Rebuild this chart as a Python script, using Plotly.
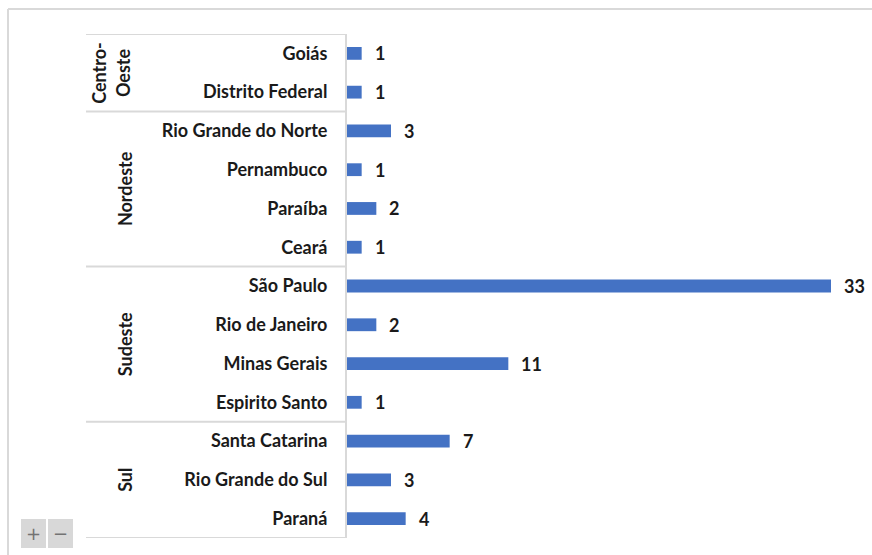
import plotly.graph_objects as go

regions = ["Centro-Oeste", "Centro-Oeste",
           "Nordeste", "Nordeste", "Nordeste", "Nordeste",
           "Sudeste", "Sudeste", "Sudeste", "Sudeste",
           "Sul", "Sul", "Sul"]
states = ["Goiás", "Distrito Federal",
          "Rio Grande do Norte", "Pernambuco", "Paraíba", "Ceará",
          "São Paulo", "Rio de Janeiro", "Minas Gerais", "Espirito Santo",
          "Santa Catarina", "Rio Grande do Sul", "Paraná"]
values = [1, 1, 3, 1, 2, 1, 33, 2, 11, 1, 7, 3, 4]
group_labels = {"Centro-Oeste": "Centro-<br>Oeste", "Nordeste": "Nordeste",
                "Sudeste": "Sudeste", "Sul": "Sul"}

W, H = 872, 555
L, R, T, B = 347, 41, 34, 17
pw, ph = W - L - R, H - T - B

def px(x):
    return (x - L) / pw

def py(y):
    return 1 - (y - T) / ph

FONT = "Lato"
FS = 18
TXT = "#1a1a1a"
GRID = "#d9d9d9"

fig = go.Figure()
fig.add_trace(go.Bar(
    x=values, y=states, orientation="h",
    marker=dict(color="#4472C4", line=dict(width=0)),
    width=0.33, hoverinfo="x+y",
))

shapes = []
annotations = []

# value labels
for s, v in zip(states, values):
    annotations.append(dict(x=v, y=s, xref="x", yref="y", text=str(v),
                            showarrow=False, xanchor="left", yanchor="middle", xshift=11,
                            font=dict(family=FONT, size=FS, color=TXT, weight="bold")))

# group separators and labels
order = []
for r in regions:
    if r not in order:
        order.append(r)
start = 0
bounds = [-0.5]
for g in order:
    n = regions.count(g)
    center = start + (n - 1) / 2
    annotations.append(dict(x=px(125) if g != "Centro-Oeste" else px(111), y=center,
                            xref="paper", yref="y", text=group_labels[g],
                            textangle=-90, showarrow=False,
                            xanchor="center", yanchor="middle",
                            font=dict(family=FONT, size=FS, color=TXT, weight="bold")))
    start += n
    bounds.append(start - 0.5)
for b in bounds:
    shapes.append(dict(type="line", xref="paper", yref="y",
                       x0=px(86), x1=px(346), y0=b, y1=b,
                       line=dict(color=GRID, width=2)))

# outer frame
shapes.append(dict(type="line", xref="paper", yref="paper",
                   x0=px(8), x1=px(W + 5), y0=py(9), y1=py(9),
                   line=dict(color=GRID, width=2)))
shapes.append(dict(type="line", xref="paper", yref="paper",
                   x0=px(8), x1=px(8), y0=py(9), y1=py(H + 5),
                   line=dict(color=GRID, width=2)))

# zoom buttons
for x0, sym in [(21, "+"), (48, "−")]:
    shapes.append(dict(type="rect", xref="paper", yref="paper",
                       x0=px(x0), x1=px(x0 + 25), y0=py(519), y1=py(548),
                       fillcolor="#d8d8d8", line=dict(width=0)))
    annotations.append(dict(x=px(x0 + 12.5), y=py(533.5), xref="paper", yref="paper",
                            text=sym, showarrow=False, xanchor="center", yanchor="middle",
                            font=dict(family="DejaVu Sans", size=18, color="#737373")))

fig.update_layout(
    width=W, height=H,
    margin=dict(l=L, r=R, t=T, b=B),
    paper_bgcolor="white", plot_bgcolor="white",
    showlegend=False,
    shapes=shapes, annotations=annotations,
    xaxis=dict(range=[0, 33], visible=False, fixedrange=True),
    yaxis=dict(autorange=False, range=[12.5, -0.5], type="category",
               showline=True, linecolor=GRID, linewidth=2,
               showgrid=False, zeroline=False, ticks="",
               ticklabelstandoff=14,
               tickfont=dict(family=FONT, size=FS, color=TXT, weight="bold")),
)

fig.write_html("out.html")
